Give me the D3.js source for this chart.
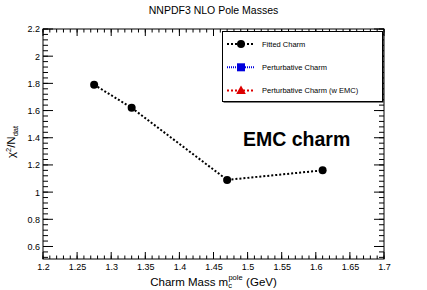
<!DOCTYPE html>
<html>
<head>
<meta charset="utf-8">
<script src="https://cdn.jsdelivr.net/npm/d3@7"></script>
<style>
  body { margin: 0; background: #fff; }
  svg { display: block; font-family: "Liberation Sans", Arial, sans-serif; }
</style>
</head>
<body>
<svg width="427" height="290"></svg>
<script>
// chart values
const masses = [1.275, 1.33, 1.47, 1.61];
const chi2 = [1.79, 1.62, 1.09, 1.16];
const xMajor = [1.2, 1.25, 1.3, 1.35, 1.4, 1.45, 1.5, 1.55, 1.6, 1.65, 1.7];
const yMajor = [0.6, 0.8, 1, 1.2, 1.4, 1.6, 1.8, 2, 2.2];
const legendNames = ["Fitted Charm", "Perturbative Charm", "Perturbative Charm (w EMC)"];
const legendColors = ["#000000", "#0000dd", "#dd0000"];
const legendMarkers = ["circle", "square", "triangle"];

const margin = {top: 29, right: 43, bottom: 31, left: 43};
const width = 427 - margin.left - margin.right;
const height = 290 - margin.top - margin.bottom;

const svg = d3.select("svg");
const chart = svg.append("g")
    .attr("transform", "translate(" + margin.left + "," + margin.top + ")");

const x = d3.scaleLinear().domain([1.2, 1.7]).range([0, width]);
const y = d3.scaleLinear().domain([0.508, 2.2]).range([height, 0]);

// minor ticks
const xMinor = d3.range(120, 171).map(d => d / 100);
const yMinor = d3.range(13, 56).map(d => d * 0.04).filter(d => d >= 0.508 && d <= 2.2001);

const xTickLen = 7, yTickLen = 10;

function drawTicks(g, scale, vals, len, orient) {
    vals.forEach(v => {
        const p = scale(v);
        if (orient === "bottom") g.append("line").attr("x1", p).attr("x2", p).attr("y1", height).attr("y2", height - len);
        if (orient === "top") g.append("line").attr("x1", p).attr("x2", p).attr("y1", 0).attr("y2", len);
        if (orient === "left") g.append("line").attr("y1", p).attr("y2", p).attr("x1", 0).attr("x2", len);
        if (orient === "right") g.append("line").attr("y1", p).attr("y2", p).attr("x1", width).attr("x2", width - len);
    });
}

const ticks = chart.append("g").attr("stroke", "#000").attr("stroke-width", 1);
drawTicks(ticks, x, xMinor, xTickLen / 2, "bottom");
drawTicks(ticks, x, xMajor, xTickLen, "bottom");
drawTicks(ticks, x, xMinor, xTickLen / 2, "top");
drawTicks(ticks, x, xMajor, xTickLen, "top");
drawTicks(ticks, y, yMinor, yTickLen / 2, "left");
drawTicks(ticks, y, yMajor, yTickLen, "left");
drawTicks(ticks, y, yMinor, yTickLen / 2, "right");
drawTicks(ticks, y, yMajor, yTickLen, "right");

// tick labels via d3 axes (no lines)
const xAxis = d3.axisBottom(x).tickValues(xMajor).tickSize(0).tickPadding(5).tickFormat(d3.format("~g"));
const yAxis = d3.axisLeft(y).tickValues(yMajor).tickSize(0).tickPadding(3).tickFormat(d3.format("~g"));

chart.append("g").attr("transform", "translate(0," + height + ")").call(xAxis)
    .call(g => g.select(".domain").remove())
    .selectAll("text").attr("font-size", 9).attr("font-family", "Liberation Sans, Arial, sans-serif").attr("fill", "#000");
chart.append("g").call(yAxis)
    .call(g => g.select(".domain").remove())
    .selectAll("text").attr("font-size", 9).attr("font-family", "Liberation Sans, Arial, sans-serif").attr("fill", "#000");

// frame
chart.append("rect")
    .attr("width", width).attr("height", height)
    .attr("fill", "none").attr("stroke", "#000").attr("stroke-width", 1);

// title
svg.append("text")
    .attr("x", 213.5).attr("y", 14)
    .attr("text-anchor", "middle")
    .attr("font-size", 10.5)
    .text("NNPDF3 NLO Pole Masses");

// x axis title
const xt = svg.append("text")
    .attr("x", margin.left + width / 2).attr("y", 285.5)
    .attr("text-anchor", "middle")
    .attr("font-size", 11.5);
xt.append("tspan").text("Charm Mass m");
xt.append("tspan").attr("font-size", 7.5).attr("dy", 2.5).text("c");
xt.append("tspan").attr("font-size", 7.5).attr("dx", -3.5).attr("dy", -8).text("pole");
xt.append("tspan").attr("dx", 3.5).attr("dy", 5.5).text("(GeV)");

// y axis title
const yt = svg.append("text")
    .attr("transform", "translate(15," + 142 + ") rotate(-90)")
    .attr("text-anchor", "middle")
    .attr("font-size", 11.5);
yt.append("tspan").text("\u03c7");
yt.append("tspan").attr("font-size", 7.5).attr("dy", -4.5).text("2");
yt.append("tspan").attr("dy", 4.5).text("/N");
yt.append("tspan").attr("font-size", 7.5).attr("dy", 2.5).text("dat");

// data line + markers
const pts = masses.map((m, i) => [m, chi2[i]]);
const line = d3.line().x(d => x(d[0])).y(d => y(d[1]));
chart.append("path")
    .datum(pts)
    .attr("d", line)
    .attr("fill", "none")
    .attr("stroke", "#000")
    .attr("stroke-width", 2)
    .attr("stroke-dasharray", "2,2");
chart.selectAll(".pt").data(pts).enter()
    .append("circle")
    .attr("cx", d => x(d[0])).attr("cy", d => y(d[1]))
    .attr("r", 4).attr("fill", "#000");

// annotation
svg.append("text")
    .attr("x", 243).attr("y", 146)
    .attr("font-size", 19.5).attr("font-weight", "bold")
    .text("EMC charm");

// legend
const leg = svg.append("g").attr("transform", "translate(222,31)");
leg.append("rect").attr("x", 1.5).attr("y", 1.5).attr("width", 160).attr("height", 70).attr("fill", "#000");
leg.append("rect").attr("x", 0.5).attr("y", 0.5).attr("width", 160).attr("height", 70)
    .attr("fill", "#fff").attr("stroke", "#000").attr("stroke-width", 1);
const rows = leg.selectAll(".row").data(legendNames).enter()
    .append("g").attr("transform", (d, i) => "translate(0," + (13 + i * 23.3) + ")");
rows.append("line")
    .attr("x1", 5).attr("x2", 33).attr("y1", 0).attr("y2", 0)
    .attr("stroke", (d, i) => legendColors[i])
    .attr("stroke-width", 2).attr("stroke-dasharray", (d, i) => i === 1 ? "1,1" : "2,2");
rows.each(function(d, i) {
    const g = d3.select(this);
    const c = legendColors[i];
    if (legendMarkers[i] === "circle") g.append("circle").attr("cx", 19).attr("cy", 0).attr("r", 4).attr("fill", c);
    if (legendMarkers[i] === "square") g.append("rect").attr("x", 15).attr("y", -4).attr("width", 8).attr("height", 8).attr("fill", c);
    if (legendMarkers[i] === "triangle") g.append("path").attr("d", d3.symbol(d3.symbolTriangle, 40)()).attr("transform", "translate(19,0.5)").attr("fill", c);
});
rows.append("text")
    .attr("x", 40).attr("y", 2.5)
    .attr("font-size", 7.5)
    .text(d => d);
</script>
</body>
</html>
